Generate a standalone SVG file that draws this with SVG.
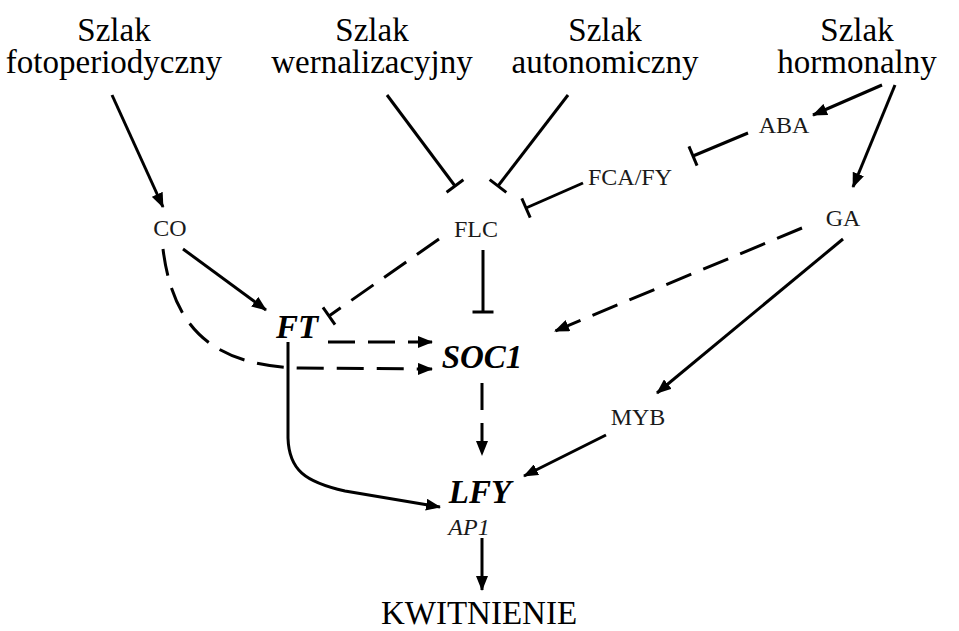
<svg xmlns="http://www.w3.org/2000/svg" width="959" height="631" viewBox="0 0 959 631" font-family="Liberation Serif, serif">
<style>
text{fill:#000;text-anchor:middle}
.big{font-size:33px}
.sm{font-size:24px;fill:#1a1a1a}
.gene{font-size:33px;font-weight:bold;font-style:italic}
.it{font-size:24px;font-style:italic;fill:#1a1a1a}
.c{fill:none;stroke:#000;stroke-width:3}
.d{stroke-dasharray:27 13}
.a{marker-end:url(#arr)}
.t{marker-end:url(#tee)}
</style>
<defs>
<marker id="arr" markerUnits="userSpaceOnUse" viewBox="0 0 15 12" markerWidth="15" markerHeight="12" refX="14" refY="6" orient="auto">
<path d="M0,0 L15,6 L0,12 z" fill="#000"/>
</marker>
<marker id="tee" markerUnits="userSpaceOnUse" viewBox="-2 -11 4 22" markerWidth="4" markerHeight="22" refX="0" refY="0" orient="auto">
<line x1="0" y1="-10.5" x2="0" y2="10.5" stroke="#000" stroke-width="3"/>
</marker>
</defs>
<g id="connectors">
<path class="c a" d="M112,95 L163,207"/>
<path class="c t" d="M387,95 L455,186"/>
<path class="c t" d="M568,95 L498,186"/>
<path class="c a" d="M882,85 L813,115"/>
<path class="c a" d="M895,85 L853,187"/>
<path class="c t" d="M748,133 L693,156"/>
<path class="c t" d="M583,183 L526,208"/>
<path class="c a" d="M183,249 L266,310"/>
<path class="c d a" d="M163,249 C173,330 215,366 300,368 L432,369"/>
<path class="c d a" d="M328,342 L432,342"/>
<path class="c d t" d="M439,239 L329,316"/>
<path class="c t" d="M483,250 L483,312"/>
<path class="c d a" d="M802,228 L555,331"/>
<path class="c a" d="M843,239 L657,393"/>
<path class="c d a" d="M482,383 L482,455"/>
<path class="c a" d="M606,435 L524,476"/>
<path class="c a" d="M288,342 L288,438 C289,470 305,482 345,491 L440,507"/>
<path class="c a" d="M482,538 L482,590"/>
</g>
<g id="szlak-fotoperiodyczny"><text class="big" font-family="Liberation Serif, serif" x="114" y="41">Szlak<tspan x="114" dy="32">fotoperiodyczny</tspan></text></g>
<g id="szlak-wernalizacyjny"><text class="big" font-family="Liberation Serif, serif" x="372" y="41">Szlak<tspan x="372" dy="32">wernalizacyjny</tspan></text></g>
<g id="szlak-autonomiczny"><text class="big" font-family="Liberation Serif, serif" x="605" y="41">Szlak<tspan x="605" dy="32">autonomiczny</tspan></text></g>
<g id="szlak-hormonalny"><text class="big" font-family="Liberation Serif, serif" x="857" y="41">Szlak<tspan x="857" dy="32">hormonalny</tspan></text></g>
<g id="CO"><text class="sm" font-family="Liberation Serif, serif" x="170" y="236">CO</text></g>
<g id="FLC"><text class="sm" font-family="Liberation Serif, serif" x="476" y="237">FLC</text></g>
<g id="ABA"><text class="sm" font-family="Liberation Serif, serif" x="784" y="133">ABA</text></g>
<g id="FCA-FY"><text class="sm" font-family="Liberation Serif, serif" x="630" y="185">FCA/FY</text></g>
<g id="GA"><text class="sm" font-family="Liberation Serif, serif" x="843" y="226">GA</text></g>
<g id="FT"><text class="gene" font-family="Liberation Serif, serif" x="297" y="338">FT</text></g>
<g id="SOC1"><text class="gene" font-family="Liberation Serif, serif" x="482" y="368">SOC1</text></g>
<g id="MYB"><text class="sm" font-family="Liberation Serif, serif" x="638" y="425">MYB</text></g>
<g id="LFY"><text class="gene" font-family="Liberation Serif, serif" x="480" y="503">LFY</text></g>
<g id="AP1"><text class="it" font-family="Liberation Serif, serif" x="469" y="535">AP1</text></g>
<g id="KWITNIENIE"><text class="big" font-family="Liberation Serif, serif" x="479" y="624">KWITNIENIE</text></g>
</svg>
